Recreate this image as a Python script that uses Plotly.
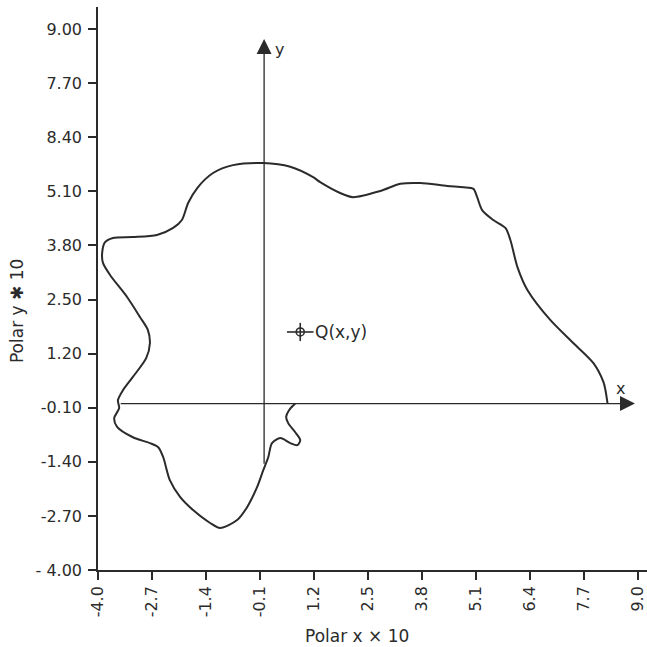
import plotly.graph_objects as go

# Contour (polar shape), counter-clockwise from the +x axis
curve_x = [8.27, 8.22, 8.17, 7.93, 7.45, 6.89, 6.34, 6.10, 5.93, 5.81, 5.52, 5.25, 5.13, 5.04,
           4.80, 4.41, 3.76, 3.28, 2.80, 2.14, 1.83, 1.35, 1.18, 0.63, -0.02, -0.75, -1.23,
           -1.61, -1.83, -1.98, -2.19, -2.58, -3.16, -3.64, -3.83, -3.90, -3.88, -3.71, -3.30,
           -2.99, -2.80, -2.75, -2.84, -3.16, -3.40, -3.52, -3.49, -3.61, -3.54, -3.16, -2.75,
           -2.55, -2.43, -2.27, -2.02, -1.71, -1.30, -1.06, -0.65, -0.41, -0.17, -0.02, 0.10,
           0.19, 0.39, 0.63, 0.80, 0.87, 0.75, 0.58, 0.53, 0.60, 0.75]
curve_y = [0.00, 0.32, 0.52, 0.97, 1.45, 2.01, 2.73, 3.28, 3.93, 4.22, 4.41, 4.65, 4.96, 5.16,
           5.20, 5.23, 5.30, 5.28, 5.11, 4.96, 5.06, 5.32, 5.44, 5.69, 5.78, 5.73, 5.54,
           5.18, 4.82, 4.41, 4.22, 4.05, 4.00, 3.98, 3.88, 3.62, 3.38, 3.09, 2.56,
           2.08, 1.77, 1.45, 1.09, 0.64, 0.32, 0.08, -0.11, -0.35, -0.56, -0.81, -0.95,
           -1.05, -1.29, -1.84, -2.25, -2.56, -2.87, -2.99, -2.80, -2.49, -2.01, -1.60, -1.29,
           -0.95, -0.83, -0.95, -1.00, -0.88, -0.69, -0.47, -0.32, -0.16, 0.00]

# Point Q
q_x = [0.87]
q_y = [1.72]
q_label = "Q(x,y)"

# Local coordinate axes (tail -> head)
xaxis_tail = (-3.49, 0.0)
xaxis_head = (8.93, 0.0)
yaxis_tail = (0.0, -1.48)
yaxis_head = (0.0, 8.76)

# Tick values and their printed labels (as in the original, incl. its "8.40")
x_tickvals = [-4.0, -2.7, -1.4, -0.1, 1.2, 2.5, 3.8, 5.1, 6.4, 7.7, 9.0]
x_ticktext = ["-4.0", "-2.7", "-1.4", "-0.1", "1.2", "2.5", "3.8", "5.1", "6.4", "7.7", "9.0"]
y_tickvals = [-4.0, -2.7, -1.4, -0.1, 1.2, 2.5, 3.8, 5.1, 6.4, 7.7, 9.0]
y_ticktext = ["- 4.00", "-2.70", "-1.40", "-0.10", "1.20", "2.50", "3.80", "5.10", "8.40", "7.70", "9.00"]

INK = "#2b2b2b"
FONT = "DejaVu Sans"

fig = go.Figure()

fig.add_trace(go.Scatter(x=curve_x, y=curve_y, mode="lines",
                         line=dict(color=INK, width=2, shape="spline", smoothing=0.8),
                         hoverinfo="skip", showlegend=False))

# Q marker: small circle with crosshair
for sym, sz in (("line-ew-open", 19), ("line-ns-open", 13), ("circle-open", 8)):
    fig.add_trace(go.Scatter(x=q_x, y=q_y, mode="markers",
                             marker=dict(symbol=sym, size=sz, color=INK,
                                         line=dict(color=INK, width=1.6)),
                             showlegend=False, hoverinfo="skip"))

annotations = [
    dict(x=xaxis_head[0], y=xaxis_head[1], ax=xaxis_tail[0], ay=xaxis_tail[1],
         xref="x", yref="y", axref="x", ayref="y", text="", showarrow=True,
         arrowhead=2, arrowsize=2.3, arrowwidth=1.3, arrowcolor=INK),
    dict(x=yaxis_head[0], y=yaxis_head[1], ax=yaxis_tail[0], ay=yaxis_tail[1],
         xref="x", yref="y", axref="x", ayref="y", text="", showarrow=True,
         arrowhead=2, arrowsize=2.3, arrowwidth=1.3, arrowcolor=INK),
    dict(x=8.58, y=0.35, xref="x", yref="y", text="x", showarrow=False,
         font=dict(family=FONT, size=16, color=INK)),
    dict(x=0.36, y=8.50, xref="x", yref="y", text="y", showarrow=False,
         font=dict(family=FONT, size=16, color=INK)),
    dict(x=1.18, y=q_y[0], xref="x", yref="y", text=q_label, showarrow=False,
         xanchor="left", font=dict(family=FONT, size=17, color=INK)),
    dict(x=-0.1475, y=0.46, xref="paper", yref="paper", text="Polar y \u2731 10",
         xanchor="center", yanchor="middle",
         showarrow=False, textangle=-90, font=dict(family=FONT, size=17, color=INK)),
    dict(x=0.4718, y=-0.117, xref="paper", yref="paper", text="Polar x \u00d7 10",
         xanchor="center", yanchor="middle",
         showarrow=False, font=dict(family=FONT, size=17, color=INK)),
]

fig.update_layout(
    width=647, height=647,
    margin=dict(l=98, r=0, t=7, b=77),
    paper_bgcolor="white", plot_bgcolor="white",
    showlegend=False,
    annotations=annotations,
    font=dict(family=FONT, size=15, color=INK),
)
fig.update_xaxes(range=[-4.0, 9.22], showgrid=False, zeroline=False,
                 showline=True, linecolor=INK, linewidth=1.5,
                 ticks="outside", ticklen=8, tickwidth=1.5, tickcolor=INK,
                 tickvals=x_tickvals, ticktext=x_ticktext, tickangle=-90,
                 automargin=False, ticklabeloverflow="allow",
                 tickfont=dict(family=FONT, size=16, color=INK))
fig.update_yaxes(range=[-4.0, 9.53], showgrid=False, zeroline=False,
                 showline=True, linecolor=INK, linewidth=1.5,
                 ticks="outside", ticklen=8, tickwidth=1.5, tickcolor=INK,
                 tickvals=y_tickvals, ticktext=y_ticktext,
                 ticklabelstandoff=3, automargin=False, ticklabeloverflow="allow",
                 tickfont=dict(family=FONT, size=16, color=INK))

fig.write_html("out.html", config={"displayModeBar": False},
               post_script="document.body.style.margin='0';document.body.style.overflow='hidden';")
